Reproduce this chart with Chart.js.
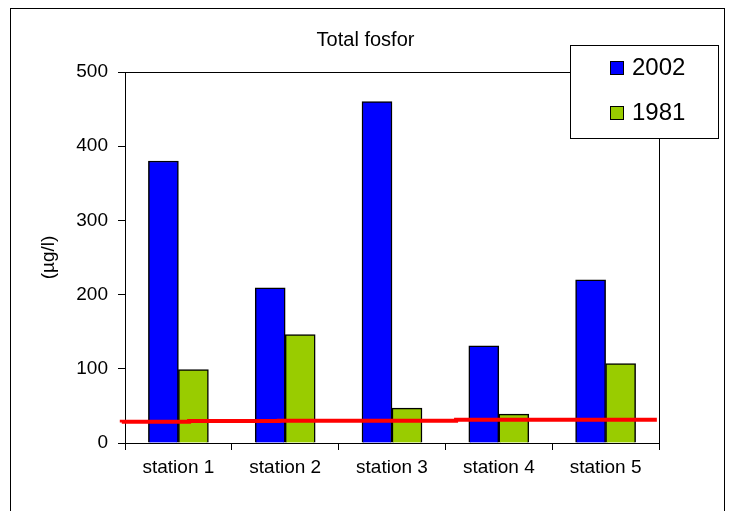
<!DOCTYPE html>
<html>
<head>
<meta charset="utf-8">
<script src="https://cdn.jsdelivr.net/npm/chart.js@4/dist/chart.umd.min.js"></script>
<style>
  html, body { margin: 0; padding: 0; background: #fff; }
  #wrap { width: 731px; height: 511px; position: relative; }
</style>
</head>
<body>
<div id="wrap"><canvas id="c" width="731" height="511"></canvas></div>
<script>
// Total phosphorus per station, µg/l
const stations = ['station 1', 'station 2', 'station 3', 'station 4', 'station 5'];
const values2002 = [380, 209, 460, 131, 220];
const values1981 = [99, 146, 47, 39, 107];
const yTicks = [0, 100, 200, 300, 400, 500];

// Reference level, drawn as short hand-placed pieces:
// start position (in station widths from the y axis) and level in µg/l
const limitX = [-0.03, 0.6, 1.44, 3.1, 3.92, 4.98];
const limitY = [27.7, 28.7, 29.6, 30.0, 31.4, 31.4];

const FONT = "'Liberation Sans', Arial, sans-serif";
Chart.defaults.font.family = FONT;
Chart.defaults.color = '#000';

// Stations sit at the middle of each unit on a 0..5 axis
const stationPos = stations.map((_, i) => i + 0.5);

// White page with a thin frame round the whole chart, and the plot-area box
const frame = {
  id: 'frame',
  beforeDraw(chart) {
    const ctx = chart.ctx;
    ctx.save();
    ctx.fillStyle = '#fff';
    ctx.fillRect(0, 0, chart.width, chart.height);
    ctx.strokeStyle = '#000';
    ctx.lineWidth = 1;
    ctx.strokeRect(10.5, 8.5, 714, 520);
    ctx.restore();
  },
  beforeDatasetsDraw(chart) {
    const a = chart.chartArea;
    const ctx = chart.ctx;
    ctx.save();
    ctx.strokeStyle = '#000';
    ctx.lineWidth = 1;
    ctx.strokeRect(Math.round(a.left) + 0.5, Math.round(a.top) + 0.5,
                   Math.round(a.right - a.left), Math.round(a.bottom - a.top));
    ctx.restore();
  }
};

// Boxed legend sitting over the top-right corner of the plot
const boxLegend = {
  id: 'boxLegend',
  afterDraw(chart) {
    const ctx = chart.ctx;
    ctx.save();
    ctx.fillStyle = '#fff';
    ctx.fillRect(570.5, 45.5, 148, 93);
    ctx.strokeStyle = '#000';
    ctx.lineWidth = 1;
    ctx.strokeRect(570.5, 45.5, 148, 93);
    const items = chart.data.datasets.filter(d => d.type !== 'line');
    ctx.font = '24px ' + FONT;
    ctx.textBaseline = 'alphabetic';
    ctx.textAlign = 'left';
    items.forEach((d, i) => {
      const base = 75 + i * 45;
      ctx.fillStyle = d.backgroundColor;
      ctx.fillRect(610, base - 14, 14, 14);
      ctx.strokeStyle = '#000';
      ctx.strokeRect(610.5, base - 13.5, 13, 13);
      ctx.fillStyle = '#000';
      ctx.fillText(d.label, 632, base);
    });
    ctx.restore();
  }
};

new Chart(document.getElementById('c'), {
  type: 'bar',
  data: {
    datasets: [
      {
        label: '2002',
        data: values2002.map((v, i) => ({ x: stationPos[i], y: v })),
        backgroundColor: '#0000FF',
        borderColor: '#000',
        borderWidth: 1.5,
        barThickness: 30,
        order: 1
      },
      {
        label: '1981',
        data: values1981.map((v, i) => ({ x: stationPos[i], y: v })),
        backgroundColor: '#99CC00',
        borderColor: '#000',
        borderWidth: 1.5,
        barThickness: 30,
        order: 1
      },
      {
        type: 'line',
        label: 'limit',
        data: limitX.map((x, i) => ({ x: x, y: limitY[i] })),
        borderColor: '#FF0000',
        borderWidth: 4,
        borderCapStyle: 'butt',
        stepped: 'after',
        pointRadius: 0,
        fill: false,
        clip: false,
        order: 0
      }
    ]
  },
  options: {
    responsive: false,
    animation: false,
    devicePixelRatio: 1,
    layout: { padding: { top: 0, left: 0, right: 0, bottom: 0 } },
    plugins: {
      legend: { display: false },
      tooltip: { enabled: false },
      title: {
        display: true,
        text: 'Total fosfor',
        font: { size: 20, weight: 'normal' },
        color: '#000',
        padding: { top: 28, bottom: 20 }
      }
    },
    scales: {
      x: {
        type: 'linear',
        min: 0,
        max: stations.length,
        offset: false,
        // tick marks on the station boundaries, names in the middle
        afterBuildTicks(s) {
          const t = [];
          for (let i = 0; i <= stations.length * 2; i++) t.push({ value: i / 2 });
          s.ticks = t;
        },
        grid: {
          drawOnChartArea: false,
          drawTicks: true,
          tickLength: 7,
          offset: false,
          color: c => (c.tick && Number.isInteger(c.tick.value)) ? '#000' : 'rgba(0,0,0,0)'
        },
        border: { color: '#000', width: 1 },
        ticks: {
          font: { size: 19 },
          color: '#000',
          padding: 6,
          maxRotation: 0,
          autoSkip: false,
          callback: v => Number.isInteger(v) ? '' : stations[Math.floor(v)]
        },
        afterFit(s) { s.height = 68; }
      },
      y: {
        type: 'linear',
        position: 'left',
        min: 0,
        max: 500,
        afterBuildTicks(s) { s.ticks = yTicks.map(v => ({ value: v })); },
        grid: { drawOnChartArea: false, drawTicks: true, tickLength: 7, color: '#000' },
        border: { color: '#000', width: 1 },
        ticks: { font: { size: 19 }, color: '#000', padding: 10 },
        title: {
          display: true,
          text: '(µg/l)',
          font: { size: 19 },
          color: '#000',
          padding: { top: 37, bottom: 0 }
        },
        afterFit(s) { s.width = 125; }
      },
      yr: {
        type: 'linear',
        position: 'right',
        display: true,
        offset: false,
        grid: { display: false },
        border: { display: false },
        ticks: { display: false },
        afterFit(s) { s.width = 72; }
      }
    }
  },
  plugins: [frame, boxLegend]
});
</script>
</body>
</html>
